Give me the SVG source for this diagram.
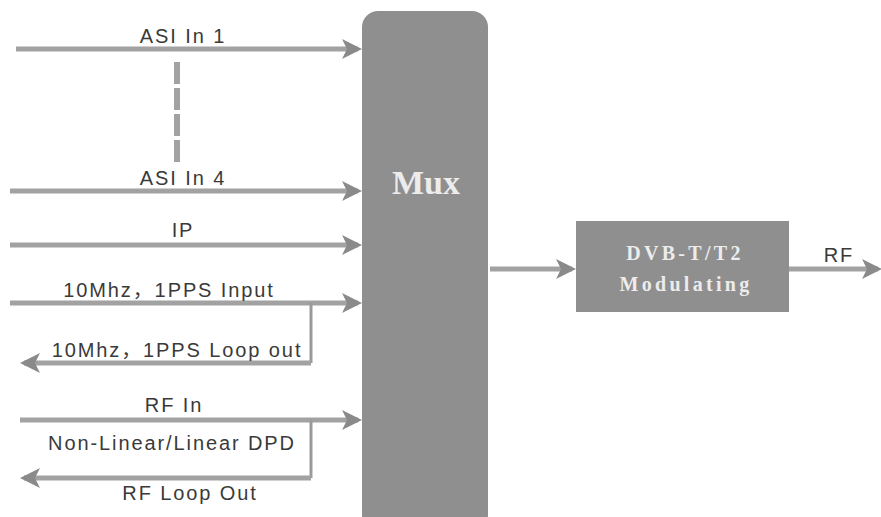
<svg xmlns="http://www.w3.org/2000/svg" width="881" height="517" viewBox="0 0 881 517">
<defs>
<marker id="ah" viewBox="0 0 20 20" refX="16" refY="10" markerWidth="20" markerHeight="20" markerUnits="userSpaceOnUse" orient="auto">
<path d="M0,0 L20,10 L0,20 L5,10 Z" fill="#8a8a8a"/>
</marker>
</defs>
<style>
.ln{stroke:#a2a2a2;stroke-width:5;fill:none}
.thin{stroke:#9a9a9a;stroke-width:3;fill:none}
.dash{stroke:#a2a2a2;stroke-width:6;fill:none;stroke-dasharray:22 4}
.lbl{font-family:"Liberation Sans","Noto Sans CJK SC",sans-serif;font-size:20px;letter-spacing:1.9px;fill:#3a3a3a;text-anchor:middle}
.box{fill:#8f8f8f}
.bt{font-family:"Liberation Serif",serif;font-weight:bold;fill:#ececec;text-anchor:middle}
</style>
<rect width="881" height="517" fill="#ffffff"/>
<g id="mux">
<rect class="box" x="362" y="11" width="126" height="520" rx="16"/>
<text class="bt" x="426" y="194" font-size="34">Mux</text>
</g>
<g id="dvb">
<rect class="box" x="576" y="221" width="213" height="91"/>
<text class="bt" x="685" y="260" font-size="20" letter-spacing="3.3">DVB-T/T2</text>
<text class="bt" x="686" y="291" font-size="20" letter-spacing="3.3">Modulating</text>
</g>
<g id="connectors">
<line class="ln" x1="16" y1="49" x2="358" y2="49" marker-end="url(#ah)"/>
<line class="dash" x1="177" y1="62" x2="177" y2="164"/>
<line class="ln" x1="10" y1="191" x2="358" y2="191" marker-end="url(#ah)"/>
<line class="ln" x1="10" y1="245" x2="358" y2="245" marker-end="url(#ah)"/>
<line class="ln" x1="10" y1="303" x2="358" y2="303" marker-end="url(#ah)"/>
<polyline class="thin" points="311,303 311,363"/>
<line class="ln" x1="311" y1="363" x2="24" y2="363" marker-end="url(#ah)"/>
<line class="ln" x1="20" y1="420" x2="358" y2="420" marker-end="url(#ah)"/>
<polyline class="thin" points="311,420 311,478"/>
<line class="ln" x1="311" y1="478" x2="24" y2="478" marker-end="url(#ah)"/>
<line class="ln" x1="490" y1="269" x2="572" y2="269" marker-end="url(#ah)"/>
<line class="ln" x1="789" y1="269" x2="878" y2="269" marker-end="url(#ah)"/>
</g>
<g id="labels">
<text class="lbl" x="183" y="43">ASI In 1</text>
<text class="lbl" x="183" y="185">ASI In 4</text>
<text class="lbl" x="183" y="237">IP</text>
<text class="lbl" x="169" y="297">10Mhz，1PPS Input</text>
<text class="lbl" x="177" y="357">10Mhz，1PPS Loop out</text>
<text class="lbl" x="174" y="412">RF In</text>
<text class="lbl" x="172" y="450">Non-Linear/Linear DPD</text>
<text class="lbl" x="190" y="500">RF Loop Out</text>
<text class="lbl" x="839" y="262">RF</text>
</g>
</svg>
